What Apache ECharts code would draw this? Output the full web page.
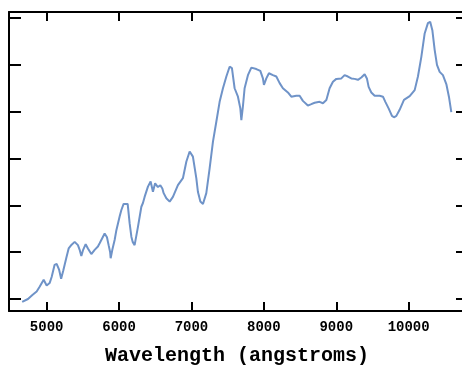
<!DOCTYPE html>
<html>
<head>
<meta charset="utf-8">
<script src="https://cdn.jsdelivr.net/npm/echarts@6/dist/echarts.min.js"></script>
<style>
  html, body { margin: 0; padding: 0; background: #fff; }
  #chart { width: 462px; height: 367px; }
</style>
</head>
<body>
<div id="chart"></div>
<script>
// spectrum (wavelength in angstroms, flux in arbitrary units)
const wavelength = [
  4662, 4742, 4807, 4862, 4903, 4959, 5000, 5041, 5069, 5110, 5138, 5173, 5200, 5228, 5272,
  5304, 5345, 5387, 5432, 5456, 5479, 5504, 5539, 5570, 5617, 5635, 5663, 5708, 5732, 5755,
  5801, 5833, 5856, 5877, 5884, 5907, 5939, 5963, 6008, 6032, 6063, 6077, 6119, 6146, 6170,
  6188, 6215, 6261, 6308, 6330, 6353, 6399, 6436, 6468, 6498, 6537, 6570, 6598, 6616, 6653,
  6699, 6744, 6813, 6882, 6929, 6975, 7020, 7067, 7089, 7123, 7159, 7205, 7251, 7297, 7344,
  7389, 7435, 7482, 7527, 7559, 7596, 7642, 7675, 7689, 7711, 7734, 7780, 7827, 7896, 7951,
  7987, 8001, 8034, 8070, 8125, 8172, 8218, 8263, 8332, 8379, 8448, 8494, 8539, 8608, 8655,
  8701, 8770, 8816, 8863, 8908, 8954, 9001, 9070, 9115, 9161, 9208, 9253, 9299, 9346, 9392,
  9423, 9447, 9484, 9530, 9599, 9645, 9678, 9723, 9769, 9797, 9830, 9875, 9935, 10014, 10083,
  10128, 10175, 10221, 10266, 10297, 10327, 10359, 10391, 10428, 10473, 10520, 10556, 10589
];
const flux = [
  -0.06, 0.00, 0.09, 0.16, 0.26, 0.41, 0.29, 0.34, 0.47, 0.73, 0.75, 0.62, 0.43, 0.60, 0.88,
  1.08, 1.16, 1.22, 1.15, 1.05, 0.92, 1.05, 1.17, 1.08, 0.96, 0.94, 1.05, 1.12, 1.19, 1.22,
  1.40, 1.32, 1.15, 1.00, 0.87, 1.05, 1.26, 1.47, 1.76, 1.90, 2.03, 2.06, 2.03, 1.62, 1.33,
  1.22, 1.15, 1.54, 1.97, 2.05, 2.18, 2.40, 2.51, 2.29, 2.47, 2.39, 2.43, 2.36, 2.26, 2.15,
  2.08, 2.18, 2.43, 2.58, 2.93, 3.15, 3.04, 2.58, 2.29, 2.08, 2.03, 2.26, 2.79, 3.36, 3.79,
  4.21, 4.50, 4.75, 4.96, 4.93, 4.50, 4.32, 4.07, 3.82, 4.12, 4.50, 4.78, 4.94, 4.91, 4.87,
  4.71, 4.57, 4.71, 4.82, 4.78, 4.75, 4.61, 4.50, 4.41, 4.32, 4.34, 4.34, 4.23, 4.13, 4.16,
  4.19, 4.21, 4.18, 4.25, 4.50, 4.64, 4.70, 4.71, 4.78, 4.75, 4.71, 4.70, 4.68, 4.73, 4.80,
  4.71, 4.53, 4.41, 4.34, 4.34, 4.32, 4.21, 4.07, 3.91, 3.88, 3.91, 4.04, 4.25, 4.33, 4.46,
  4.75, 5.17, 5.67, 5.89, 5.92, 5.74, 5.32, 5.00, 4.85, 4.78, 4.59, 4.32, 3.99
];
const xTicks = [5000, 6000, 7000, 8000, 9000, 10000];
const yTicks = [0, 1, 2, 3, 4, 5, 6];

const chart = echarts.init(document.getElementById('chart'));

const axisLine = { show: true, onZero: false, lineStyle: { color: '#000', width: 2 } };
const tickStyle = { color: '#000', width: 2 };

chart.setOption({
  animation: false,
  grid: { left: 9, top: 12, width: 456, height: 299, outerBoundsMode: 'none' },
  xAxis: [
    {
      type: 'value', position: 'bottom', min: 4480, max: 10778,
      axisLine: axisLine,
      axisTick: { show: true, inside: true, length: 9, customValues: xTicks, lineStyle: tickStyle },
      axisLabel: {
        customValues: xTicks, margin: 9, color: '#000',
        fontFamily: 'Liberation Mono', fontWeight: 'bold', fontSize: 14,
        formatter: v => String(v)
      },
      splitLine: { show: false },
      name: 'Wavelength (angstroms)', nameLocation: 'middle', nameGap: 35,
      nameTextStyle: { color: '#000', fontFamily: 'Liberation Mono', fontWeight: 'bold', fontSize: 20 }
    },
    {
      type: 'value', position: 'top', min: 4480, max: 10778,
      axisLine: axisLine,
      axisTick: { show: true, inside: true, length: 9, customValues: xTicks, lineStyle: tickStyle },
      axisLabel: { show: false },
      splitLine: { show: false }
    }
  ],
  yAxis: [
    {
      type: 'value', position: 'left', min: -0.256, max: 6.128,
      axisLine: axisLine,
      axisTick: { show: true, inside: true, length: 12, customValues: yTicks, lineStyle: tickStyle },
      axisLabel: { show: false },
      splitLine: { show: false }
    },
    {
      type: 'value', position: 'right', min: -0.256, max: 6.128,
      axisLine: { show: false, onZero: false },
      axisTick: { show: true, inside: true, length: 9, customValues: yTicks, lineStyle: tickStyle },
      axisLabel: { show: false },
      splitLine: { show: false }
    }
  ],
  series: [
    {
      type: 'line',
      data: wavelength.map((w, i) => [w, flux[i]]),
      showSymbol: false,
      lineStyle: { color: '#6f93c8', width: 2 }
    }
  ]
});
</script>
</body>
</html>
